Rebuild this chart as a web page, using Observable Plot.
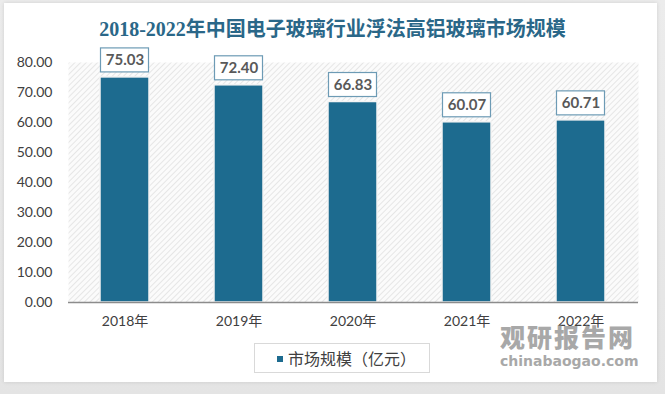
<!DOCTYPE html>
<html><head><meta charset="utf-8">
<script src="https://cdn.jsdelivr.net/npm/d3@7"></script>
<script src="https://cdn.jsdelivr.net/npm/@observablehq/plot@0.6"></script>
<style>
html,body{margin:0;padding:0;background:#e9e9e9;}
#wrap{position:relative;width:665px;height:394px;overflow:hidden;background:linear-gradient(#ececec,#e4e4e4);}
#card{position:absolute;left:4px;top:3px;width:653px;height:379px;background:#fff;box-shadow:0 0 4px rgba(0,0,0,0.12);}
#title{position:absolute;left:0;top:13px;width:665px;text-align:center;font-family:"Liberation Serif","Noto Sans CJK SC",serif;font-weight:bold;font-size:20px;color:#2a6788;}
#chart{position:absolute;left:0;top:0;}
#legend{position:absolute;left:254px;top:343px;width:176px;height:30px;border:1px solid #d9d9d9;background:#fff;box-sizing:border-box;font-family:"Noto Sans CJK SC",sans-serif;font-size:16px;color:#404040;}
#legend .sw{position:absolute;left:22px;top:12px;width:6px;height:6px;background:#1d6b8f;}
#legend .tx{position:absolute;left:33px;top:2px;white-space:nowrap;}
#wm{position:absolute;left:500px;top:320px;color:#8c8c8c;opacity:0.75;font-family:"Noto Sans CJK SC",sans-serif;}
#wm .a{font-size:25px;font-weight:900;letter-spacing:2px;line-height:33px;}
#wm .b{font-size:14px;font-weight:bold;font-family:"DejaVu Sans",sans-serif;line-height:16px;}
</style></head>
<body>
<div id="wrap">
<div id="card"></div>
<div id="title">2018-2022年中国电子玻璃行业浮法高铝玻璃市场规模</div>
<div id="chart"></div>
<div id="legend"><div class="sw"></div><div class="tx">市场规模（亿元）</div></div>
<div id="wm"><div class="a">观研报告网</div><div class="b">chinabaogao.com</div></div>
</div>
<script>
const years = ["2018年","2019年","2020年","2021年","2022年"];
const values = [75.03, 72.40, 66.83, 60.07, 60.71];
const yTicks = [0,10,20,30,40,50,60,70,80];
const seriesName = "市场规模（亿元）";

const data = years.map((y,i)=>({year:y, value:values[i]}));

const plot = Plot.plot({
  width: 665,
  height: 340,
  marginTop: 62,
  marginBottom: 38,
  marginLeft: 68,
  marginRight: 27,
  style: {background:"transparent", fontFamily:"Lato, 'Noto Sans CJK SC', sans-serif", fontSize:"14px", color:"#404040"},
  x: {domain: years, paddingInner: 0.57, paddingOuter: 0.285, label: null},
  y: {domain: [0,80], ticks: yTicks, tickFormat: d=>d.toFixed(2), label: null},
  marks: [
    Plot.frame({fill:"url(#hatch)", stroke:null}),
    Plot.axisY({ticks: yTicks, tickSize:0, tickPadding:16, tickFormat:d=>d.toFixed(2), fontSize:14, label:null}),
    Plot.axisX({tickSize:0, tickPadding:14, fontSize:14, label:null}),
    Plot.barY(data, {x:"year", y:"value", fill:"#1d6b8f", stroke:"#f4f4f4", strokeWidth:1.5}),
    Plot.ruleY([0], {stroke:"#8c8c8c", strokeWidth:1.5}),
    Plot.rect(data, {x:"year", y1:"value", y2:"value", insetTop:-29, insetBottom:5, insetLeft:0.5, insetRight:0.5, fill:"#fff", stroke:"#6d9bb5", strokeWidth:1.2}),
    Plot.text(data, {x:"year", y:"value", text:d=>d.value.toFixed(2), dy:-17, fill:"#595959", fontWeight:"bold", fontSize:15, fontFamily:"Lato, sans-serif"})
  ]
});

const ns = "http://www.w3.org/2000/svg";
const defs = document.createElementNS(ns, "defs");
defs.innerHTML = '<pattern id="hatch" patternUnits="userSpaceOnUse" width="4" height="4" patternTransform="rotate(45)"><rect width="4" height="4" fill="#fbfbfb"/><line x1="0" y1="0" x2="0" y2="4" stroke="#dedede" stroke-width="1.4"/></pattern>';
plot.insertBefore(defs, plot.firstChild);
document.getElementById("chart").appendChild(plot);
</script>
</body></html>
